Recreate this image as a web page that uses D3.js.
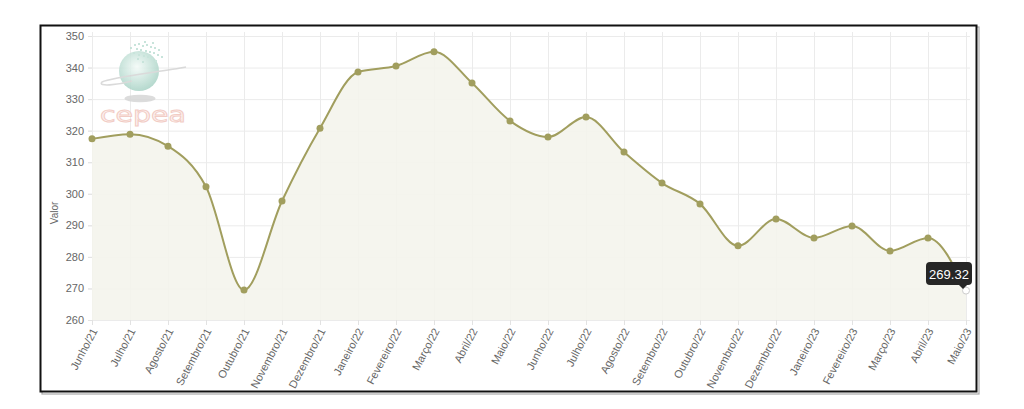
<!DOCTYPE html>
<html>
<head>
<meta charset="utf-8">
<script src="https://cdn.jsdelivr.net/npm/d3@7"></script>
<style>
  html, body { margin: 0; padding: 0; background: #fff; }
  svg { display: block; font-family: "Liberation Sans", Arial, sans-serif; }
</style>
</head>
<body>
<div id="chart"></div>
<script>
// months on the x axis
const months = ["Junho/21","Julho/21","Agosto/21","Setembro/21","Outubro/21","Novembro/21","Dezembro/21",
  "Janeiro/22","Fevereiro/22","Março/22","Abril/22","Maio/22","Junho/22","Julho/22","Agosto/22",
  "Setembro/22","Outubro/22","Novembro/22","Dezembro/22","Janeiro/23","Fevereiro/23","Março/23",
  "Abril/23","Maio/23"];
// values
const values = [317.4,318.9,315.1,302.2,269.5,297.7,320.8,338.6,340.5,345.0,335.1,323.1,318.0,324.3,
  313.2,303.4,296.8,283.5,292.0,286.0,289.8,281.9,286.0,269.32];
const yTicks = [260,270,280,290,300,310,320,330,340,350];

const W = 1024, H = 409;
const plotL = 92, plotR = 966, plotT = 36, plotB = 320;
const lineColor = "#a19e5e";

const svg = d3.select("#chart").append("svg").attr("width", W).attr("height", H);

// frame with a little shadow
svg.append("rect").attr("x", 42).attr("y", 27).attr("width", 937).attr("height", 367)
  .attr("fill", "none").attr("stroke", "#aaa").attr("stroke-width", 1.2);
svg.append("rect").attr("x", 40.5).attr("y", 25.5).attr("width", 936).attr("height", 366)
  .attr("fill", "#fff").attr("stroke", "#111").attr("stroke-width", 2);

const x = d3.scalePoint().domain(months).range([plotL, plotR]);
const y = d3.scaleLinear().domain([260, 350]).range([plotB, plotT]);

// grid
svg.append("g").selectAll("line").data(yTicks).join("line")
  .attr("x1", plotL - 4).attr("x2", plotR + 4)
  .attr("y1", d => y(d) + 0.5).attr("y2", d => y(d) + 0.5)
  .attr("stroke", "#ebebeb").attr("stroke-width", 1);
svg.append("g").selectAll("line").data(months).join("line")
  .attr("x1", d => Math.round(x(d)) + 0.5).attr("x2", d => Math.round(x(d)) + 0.5)
  .attr("y1", plotT - 4).attr("y2", plotB + 5)
  .attr("stroke", "#ebebeb").attr("stroke-width", 1);

// logo (watermark)
const logo = svg.append("g").attr("opacity", 0.85);
const grad = svg.append("defs").append("radialGradient").attr("id", "globe")
  .attr("cx", "45%").attr("cy", "40%").attr("r", "60%");
grad.append("stop").attr("offset", "0%").attr("stop-color", "#f4fbf8");
grad.append("stop").attr("offset", "100%").attr("stop-color", "#a9d3c6");
logo.append("ellipse").attr("cx", 140).attr("cy", 98.5).attr("rx", 15.5).attr("ry", 3.8)
  .attr("fill", "#d6d6d6");
logo.append("circle").attr("cx", 139).attr("cy", 71).attr("r", 20).attr("fill", "url(#globe)");
logo.append("path").attr("d", "M186,67 C160,72 112,77 102,82 C97,87 118,85 132,81")
  .attr("fill", "none").attr("stroke", "#d4d4d4").attr("stroke-width", 1.6);
const pix = [[134,44],[138,43],[142,45],[146,44],[150,46],[154,47],[136,48],[140,49],[145,50],
  [149,51],[153,52],[157,54],[133,52],[138,54],[143,55],[147,56],[151,58],[155,60],[137,58],[142,61],
  [158,49],[161,56],[130,47],[144,41],[152,42]];
logo.append("g").selectAll("rect").data(pix).join("rect")
  .attr("x", d => d[0]).attr("y", d => d[1]).attr("width", 2).attr("height", 2)
  .attr("fill", "#bfe0d5");
logo.append("text").attr("x", 143).attr("y", 122).attr("text-anchor", "middle")
  .attr("font-size", 22).attr("font-family", "'DejaVu Sans', sans-serif")
  .attr("fill", "#fdf1ee").attr("stroke", "#f0c4bb").attr("stroke-width", 0.9)
  .attr("textLength", 86).attr("lengthAdjust", "spacingAndGlyphs").text("cepea");

// area + line
const area = d3.area().x((d, i) => x(months[i])).y0(plotB).y1(d => y(d)).curve(d3.curveMonotoneX);
const line = d3.line().x((d, i) => x(months[i])).y(d => y(d)).curve(d3.curveMonotoneX);
svg.append("path").datum(values).attr("d", area).attr("fill", "#f4f4ec").attr("fill-opacity", 0.9);
svg.append("path").datum(values).attr("d", line).attr("fill", "none")
  .attr("stroke", lineColor).attr("stroke-width", 2);

// points
svg.append("g").selectAll("circle").data(values.slice(0, -1)).join("circle")
  .attr("cx", (d, i) => x(months[i])).attr("cy", d => y(d)).attr("r", 3.5)
  .attr("fill", lineColor);
const last = values.length - 1;
svg.append("circle").attr("cx", x(months[last])).attr("cy", y(values[last])).attr("r", 3.5)
  .attr("fill", "#fff").attr("stroke", "#ccc").attr("stroke-width", 1);

// axes
const yAxis = svg.append("g").attr("transform", `translate(${plotL},0)`)
  .call(d3.axisLeft(y).tickValues(yTicks).tickSize(4).tickPadding(4));
yAxis.select(".domain").remove();
yAxis.selectAll("line").attr("stroke", "#e2e2e2");
yAxis.selectAll("text").attr("fill", "#666").attr("font-size", 11)
  .attr("font-family", "'Liberation Sans', Arial, sans-serif");

const xAxis = svg.append("g").attr("transform", `translate(0,${plotB})`)
  .call(d3.axisBottom(x).tickSize(5).tickPadding(3));
xAxis.select(".domain").remove();
xAxis.selectAll("line").attr("stroke", "#e2e2e2");
xAxis.selectAll("text").attr("fill", "#666").attr("font-size", 11)
  .attr("font-family", "'Liberation Sans', Arial, sans-serif")
  .attr("x", 0).attr("y", 0).attr("dy", "0.35em")
  .attr("text-anchor", "end")
  .attr("transform", "translate(2,9) rotate(-62)");

svg.append("text").attr("transform", "translate(58,213) rotate(-90)")
  .attr("text-anchor", "middle").attr("font-size", 10).attr("fill", "#666").text("Valor");

// tooltip on last point
const tip = svg.append("g");
tip.append("rect").attr("x", 926).attr("y", 262).attr("width", 46).attr("height", 23).attr("rx", 4)
  .attr("fill", "#262626");
tip.append("path").attr("d", "M958,284 L963,289 L968,284 Z").attr("fill", "#262626");
tip.append("text").attr("x", 949).attr("y", 278.5).attr("text-anchor", "middle")
  .attr("font-size", 13).attr("fill", "#fff").text(values[last].toFixed(2));
</script>
</body>
</html>
